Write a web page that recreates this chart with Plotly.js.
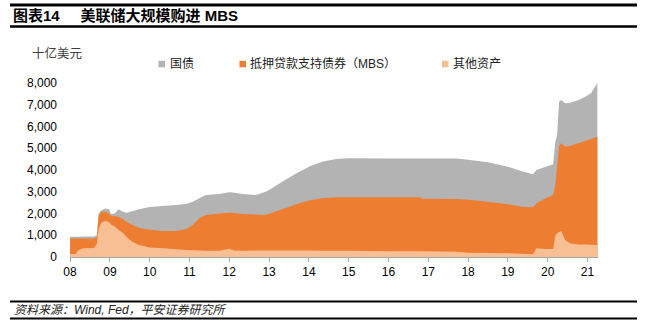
<!DOCTYPE html>
<html>
<head>
<meta charset="utf-8">
<script src="https://cdn.plot.ly/plotly-3.0.1.min.js"></script>
<style>html,body{margin:0;padding:0;background:#fff;}#chart{width:647px;height:328px;}</style>
</head>
<body>
<div id="chart"></div>
<script>
// Dates of readings
const dates = [
 '2008-01-02','2008-02-20','2008-03-20','2008-05-01','2008-08-10','2008-09-03','2008-09-20','2008-10-15','2008-11-20','2008-12-25',
 '2009-01-10','2009-02-15','2009-03-20','2009-05-01','2009-06-01','2009-07-25','2009-09-25','2010-01-01','2010-05-01','2010-09-01',
 '2010-12-01','2011-02-01','2011-04-01','2011-06-01','2011-10-01','2012-01-01','2012-02-15','2012-05-01','2012-09-01','2012-12-01',
 '2013-01-01','2013-05-01','2013-09-10','2014-01-01','2014-05-01','2014-09-10','2015-01-01','2016-01-01','2016-10-20','2016-11-01',
 '2017-09-15','2018-01-01','2018-07-01','2019-01-01','2019-05-01','2019-08-20','2019-09-20','2019-12-15','2020-02-20','2020-03-12',
 '2020-03-28','2020-04-15','2020-05-05','2020-06-10','2020-07-20','2020-10-10','2020-12-15','2021-02-01','2021-03-15','2021-04-01'
];
// Cumulative top of 国债 area (total), 十亿美元
const treasuryTop = [
 935,935,935,940,940,1000,2000,2150,2230,2200,
 1980,2000,2200,2080,2040,2100,2193,2300,2350,2390,
 2438,2545,2700,2852,2898,2975,2950,2898,2852,3000,
 3082,3465,3849,4155,4385,4508,4538,4530,4530,4530,
 4530,4470,4355,4155,3950,3800,4002,4155,4262,5305,
 5611,7145,7222,7069,7080,7222,7375,7528,7866,7990
];
// Cumulative top of MBS area
const mbsTop = [
 845,850,850,850,850,880,1900,2080,2085,2000,
 1900,1870,1855,1750,1625,1472,1350,1250,1200,1196,
 1273,1472,1779,1932,2000,2040,2020,1978,1950,1932,
 1990,2192,2420,2600,2700,2744,2744,2744,2744,2680,
 2668,2630,2545,2422,2315,2284,2468,2698,2852,3312,
 4232,5100,5228,5075,5100,5228,5350,5430,5500,5535
];
// Top of 其他资产 area
const otherTop = [
 140,140,320,400,410,600,1300,1580,1670,1600,
 1500,1400,1250,1100,935,705,552,440,400,360,
 322,310,300,291,291,380,300,291,300,300,
 300,300,300,300,290,290,290,260,260,260,
 240,200,180,170,150,130,399,368,368,1000,
 1089,1150,1196,782,629,580,570,560,555,550
];
const seriesNames = ['国债','抵押贷款支持债券（MBS）','其他资产'];
const seriesColors = ['#b3b3b3','#ed7d31','#f8bf94'];
const tickDates = ['2008-01-01','2009-01-01','2010-01-01','2011-01-01','2012-01-01','2013-01-01','2014-01-01',
 '2015-01-01','2016-01-01','2017-01-01','2018-01-01','2019-01-01','2020-01-01','2021-01-01'];
const tickText = ['08','09','10','11','12','13','14','15','16','17','18','19','20','21'];

const tops = [treasuryTop, mbsTop, otherTop];
const traces = tops.map((ys, i) => ({
  x: dates, y: ys, type: 'scatter', mode: 'none', fill: 'tozeroy', name: seriesNames[i],
  fillcolor: seriesColors[i], line: {shape: 'linear', width: 0}, showlegend: false, hoverinfo: 'skip'
}));

const L = 70, R = 598, T = 83, B = 257;
const px = p => (p - L) / (R - L);
const py = q => (B - q) / (B - T);
const font = 'Liberation Sans, Arial, Noto Sans CJK SC, sans-serif';
const cjk = 'Liberation Sans, Arial, Noto Sans CJK SC, sans-serif';

// legend entries (square + label), positions in px
const legendPos = [[158.5, 168], [239.5, 248], [442, 450.5]];
const legendShapes = legendPos.map((p, i) => ({type: 'rect', xref: 'paper', yref: 'paper',
  x0: px(p[0]), x1: px(p[0] + 6.5), y0: py(67.3), y1: py(60.8), fillcolor: seriesColors[i], line: {width: 0}}));
const legendTexts = legendPos.map((p, i) => ({text: seriesNames[i], xref: 'paper', yref: 'paper',
  x: px(p[1]), y: py(64), xanchor: 'left', yanchor: 'middle', showarrow: false,
  font: {family: cjk, size: 12, color: '#222'}}));

const layout = {
  width: 647, height: 328,
  margin: {l: L, r: 647 - R, t: T, b: 328 - B, pad: 0},
  paper_bgcolor: '#fff', plot_bgcolor: '#fff',
  font: {family: font, size: 12, color: '#000'},
  showlegend: false,
  title: {text: '<b>图表14&nbsp;&nbsp;&nbsp;&nbsp;&nbsp;美联储大规模购进 MBS</b>', x: 13/647, xanchor: 'left',
          y: 1 - 16/328, yanchor: 'middle', yref: 'container', xref: 'container',
          font: {family: cjk, size: 15, color: '#000'}},
  xaxis: {type: 'date', range: ['2008-01-01', '2021-04-07'], tickvals: tickDates, ticktext: tickText,
          showgrid: false, zeroline: false, showline: true, linecolor: '#a6a6a6', linewidth: 1,
          ticks: 'outside', ticklen: 4, tickcolor: '#a6a6a6', tickfont: {size: 12, color: '#000'}},
  yaxis: {range: [0, 8000], tickvals: [0,1000,2000,3000,4000,5000,6000,7000,8000], tickformat: ',d',
          showgrid: false, zeroline: false, showline: false, ticks: '', ticklabelstandoff: 12,
          tickfont: {size: 12, color: '#000'}},
  annotations: [
    {text: '十亿美元', xref: 'paper', yref: 'paper', x: px(30), y: py(54), xanchor: 'left', yanchor: 'middle',
     showarrow: false, font: {family: cjk, size: 12.5, color: '#404040'}},
    {text: '<i>资料来源：Wind, Fed，平安证券研究所</i>', xref: 'paper', yref: 'paper', x: px(12), y: py(310),
     xanchor: 'left', yanchor: 'middle', showarrow: false,
     font: {family: cjk, size: 12, color: '#222'}}
  ].concat(legendTexts),
  shapes: [
    {type: 'line', xref: 'paper', yref: 'paper', x0: px(10), x1: px(637), y0: py(5), y1: py(5), line: {color: '#000', width: 3}},
    {type: 'line', xref: 'paper', yref: 'paper', x0: px(10), x1: px(637), y0: py(26.5), y1: py(26.5), line: {color: '#000', width: 2.5}},
    {type: 'line', xref: 'paper', yref: 'paper', x0: px(10), x1: px(637), y0: py(301.5), y1: py(301.5), line: {color: '#000', width: 2}},
    {type: 'line', xref: 'paper', yref: 'paper', x0: px(10), x1: px(637), y0: py(318.5), y1: py(318.5), line: {color: '#000', width: 2}}
  ].concat(legendShapes)
};
Plotly.newPlot('chart', traces, layout, {staticPlot: true, displayModeBar: false});
</script>
</body>
</html>
